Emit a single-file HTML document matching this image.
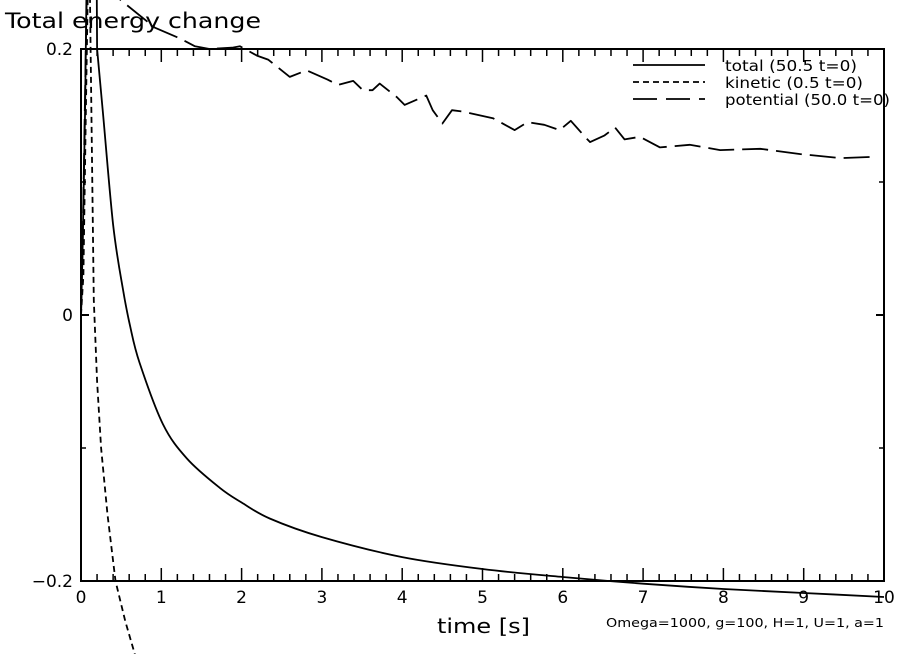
<!DOCTYPE html>
<html><head><meta charset="utf-8"><style>
html,body{margin:0;padding:0;background:#fff;}
svg{display:block;font-family:"DejaVu Sans","Liberation Sans",sans-serif;}
</style></head><body>
<svg id="chart" width="904" height="654" viewBox="0 0 904 654">
<text x="5" y="28" font-size="21" textLength="256" lengthAdjust="spacingAndGlyphs">Total energy change</text>
<g id="axes"></g>
<g id="series"></g>
<text x="437" y="633" font-size="20" textLength="93" lengthAdjust="spacingAndGlyphs">time [s]</text>
<text x="606" y="627" font-size="12" textLength="278" lengthAdjust="spacingAndGlyphs">Omega=1000, g=100, H=1, U=1, a=1</text>
<g id="legend"></g>
</svg>
<script>
const xTicks=[0,1,2,3,4,5,6,7,8,9,10];
const yTicks=[-0.2,0,0.2];
const yTickLabels=["\u22120.2","0","0.2"];
const totalT=[0,0.02,0.05,0.07,0.08,0.19,0.2,0.27,0.4,0.52,0.61,0.73,1.02,1.32,1.73,2,2.35,3,4,5,6,7,8,9,10];
const totalV=[0,0.05,0.15,0.25,0.3,0.3,0.2,0.154,0.068,0.02,-0.008,-0.036,-0.082,-0.108,-0.130,-0.141,-0.153,-0.167,-0.182,-0.191,-0.197,-0.202,-0.206,-0.209,-0.212];
const kineticT=[0,0.03,0.06,0.1,0.12,0.16,0.2,0.25,0.33,0.43,0.55,0.67];
const kineticV=[0,0.03,0.15,0.3,0.2,0.011,-0.05,-0.1,-0.15,-0.2,-0.23,-0.255];
const potentialT=[0,0.02,0.06,0.09,0.3,0.49,0.92,1.23,1.42,1.6,1.88,1.98,2.19,2.33,2.6,2.81,3.07,3.2,3.39,3.51,3.63,3.72,3.93,4.03,4.3,4.38,4.5,4.62,4.75,5.13,5.28,5.4,5.56,5.77,5.96,6.1,6.29,6.34,6.52,6.65,6.77,6.96,7.21,7.58,7.96,8.46,8.96,9.46,9.91];
const potentialV=[0,0.05,0.2,0.3,0.3,0.237,0.216,0.208,0.202,0.2,0.201,0.202,0.195,0.192,0.179,0.184,0.177,0.173,0.176,0.169,0.169,0.174,0.164,0.158,0.165,0.154,0.144,0.154,0.153,0.148,0.143,0.139,0.145,0.143,0.139,0.146,0.133,0.13,0.135,0.141,0.132,0.134,0.126,0.128,0.124,0.125,0.121,0.118,0.119];
const legendLabels=["total (50.5 t=0)","kinetic (0.5 t=0)","potential (50.0 t=0)"];
const X0=81,X1=884,Y0=581,Y1=49;
const sx=t=>X0+(t/10)*(X1-X0);
const sy=v=>315-v*(Y0-Y1)/0.4;
const NS="http://www.w3.org/2000/svg";
function mk(tag,attrs,parent){const e=document.createElementNS(NS,tag);for(const k in attrs)e.setAttribute(k,attrs[k]);parent.appendChild(e);return e;}
const axes=document.getElementById('axes');
const frame=mk('rect',{x:X0,y:Y1,width:X1-X0,height:Y0-Y1,fill:'none',stroke:'#000','stroke-width':2},axes);


for(let i=0;i<=50;i++){
  const t=i*0.2;const x=sx(t);const major=i%5===0;const len=major?13:7;
  const a=mk('line',{x1:x,y1:Y1,x2:x,y2:Y1+len,stroke:'#000','stroke-width':1.5},axes);
  
  
  const b=mk('line',{x1:x,y1:Y0,x2:x,y2:Y0-len,stroke:'#000','stroke-width':1.5},axes);
  
  
}
xTicks.forEach(t=>{
  const l=mk('text',{x:sx(t),y:Y0+22,'font-size':17,'text-anchor':'middle'},axes);
  l.textContent=String(t);
  
  
});
[-0.1,0.1].forEach(v=>{
  const a=mk('line',{x1:X0,y1:sy(v),x2:X0+5,y2:sy(v),stroke:'#000','stroke-width':1.5},axes);
  
  
  const b=mk('line',{x1:X1,y1:sy(v),x2:X1-5,y2:sy(v),stroke:'#000','stroke-width':1.5},axes);
  
  
});
yTicks.forEach((v,i)=>{
  const a=mk('line',{x1:X0,y1:sy(v),x2:X0+8,y2:sy(v),stroke:'#000','stroke-width':2},axes);
  
  
  const b=mk('line',{x1:X1,y1:sy(v),x2:X1-8,y2:sy(v),stroke:'#000','stroke-width':2},axes);
  
  
  const l=mk('text',{x:X0-8,y:sy(v)+6,'font-size':17,'text-anchor':'end'},axes);
  l.textContent=yTickLabels[i];
  
  
});
const series=document.getElementById('series');
function smoothPath(T,V){
  const P=T.map((t,i)=>[sx(t),sy(V[i])]);
  let d='M'+P[0][0].toFixed(1)+','+P[0][1].toFixed(1);
  for(let i=0;i<P.length-1;i++){
    const p0=P[Math.max(0,i-1)],p1=P[i],p2=P[i+1],p3=P[Math.min(P.length-1,i+2)];
    const c1=[p1[0]+(p2[0]-p0[0])/6,p1[1]+(p2[1]-p0[1])/6];
    const c2=[p2[0]-(p3[0]-p1[0])/6,p2[1]-(p3[1]-p1[1])/6];
    d+=' C'+c1[0].toFixed(1)+','+c1[1].toFixed(1)+' '+c2[0].toFixed(1)+','+c2[1].toFixed(1)+' '+p2[0].toFixed(1)+','+p2[1].toFixed(1);
  }
  return d;
}
function linPath(T,V){return T.map((t,i)=>(i?'L':'M')+sx(t).toFixed(1)+','+sy(V[i]).toFixed(1)).join(' ');}
function addPath(d,dash,name){
  const p=mk('path',{d:d,fill:'none',stroke:'#000','stroke-width':1.8,'stroke-dasharray':dash,'stroke-linejoin':'round'},series);
  
  
}
addPath(linPath(totalT.slice(0,7),totalV.slice(0,7)),'none','total-line-spike');
addPath(smoothPath(totalT.slice(6),totalV.slice(6)),'none','total-line');
addPath(linPath(kineticT,kineticV),'6,4','kinetic-line');
addPath(linPath(potentialT,potentialV),'26,8','potential-line');
const legend=document.getElementById('legend');
const dashes=['none','6,4','24,9'];
const legendWidths=[132,138,165];
legendLabels.forEach((s,i)=>{
  const y=65+i*17;
  const l=mk('line',{x1:633,y1:y,x2:705,y2:y,stroke:'#000','stroke-width':1.8,'stroke-dasharray':dashes[i]},legend);
  
  
  const t=mk('text',{x:725,y:y+6,'font-size':15,textLength:legendWidths[i],lengthAdjust:'spacingAndGlyphs'},legend);
  t.textContent=s;
  
  
});
</script>
</body></html>
